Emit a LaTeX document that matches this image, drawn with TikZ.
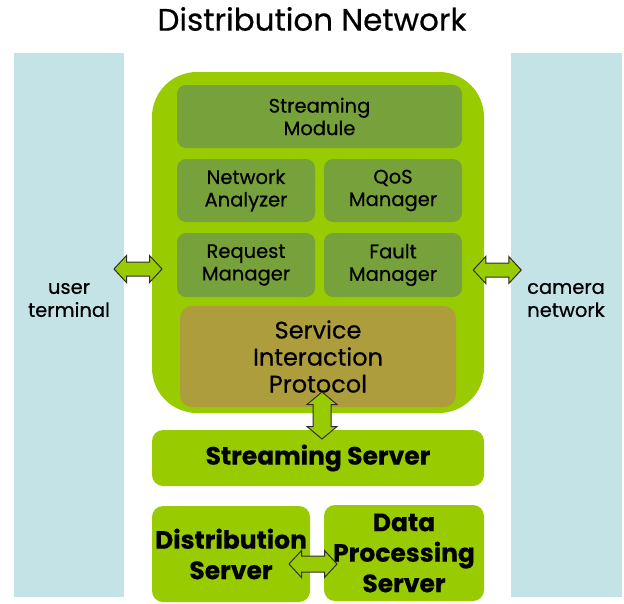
\documentclass[tikz,border=0pt]{standalone}
\usepackage{fontspec}
\setmainfont{Poppins}[FakeBold=0.5]
\usetikzlibrary{calc}
\definecolor{paneblue}{HTML}{C4E3E7}
\definecolor{leafgreen}{HTML}{99CC00}
\definecolor{mossgreen}{HTML}{77A23B}
\definecolor{olivebox}{HTML}{AD9D3D}
\definecolor{arrowline}{HTML}{2E2E2E}
\tikzset{
  pane/.style={fill=paneblue, draw=none, inner sep=0pt},
  shell/.style={fill=leafgreen, draw=none, rounded corners=45pt, inner sep=0pt},
  module/.style={fill=mossgreen, draw=none, rounded corners=9pt, inner sep=0pt,
    align=center, font=\fontsize{19.5}{22.5}\selectfont},
  protocol/.style={fill=olivebox, draw=none, rounded corners=12pt, inner sep=0pt,
    align=center, font=\fontsize{24}{27}\selectfont},
  server/.style={fill=leafgreen, draw=none, rounded corners=11pt, inner sep=0pt,
    align=center, font=\bfseries\fontsize{25}{30.5}\selectfont},
  sidelabel/.style={align=center, font=\fontsize{19.5}{23}\selectfont},
  linkline/.style={fill=leafgreen, draw=arrowline, line width=1pt, line join=miter},
  % two-headed block arrow: half length / half head width / half shaft width
  pics/twoway/.style n args={3}{code={
    \path[linkline] (-#1,0) -- ({-#1+12.5},-#2) -- ({-#1+12.5},-#3) -- ({#1-12.5},-#3)
      -- ({#1-12.5},-#2) -- (#1,0) -- ({#1-12.5},#2) -- ({#1-12.5},#3)
      -- ({-#1+12.5},#3) -- ({-#1+12.5},#2) -- cycle;
  }},
}
\begin{document}
\begin{tikzpicture}[x=1pt, y=-1pt]
\useasboundingbox (0,0) rectangle (624,603);

% title
\node (title) at (312,19) {\fontsize{31}{34}\selectfont Distribution Network};

% side panes
\node[pane, minimum width=110pt, minimum height=544pt] (user) at (69,325) {};
\node[pane, minimum width=111pt, minimum height=544pt] (camera) at (566,325) {};
\node[sidelabel] (userlbl) at (69,300) {user\\terminal};
\node[sidelabel] (cameralbl) at (566,300) {camera\\network};

% streaming module shell and its parts
\node[shell, minimum width=332pt, minimum height=341pt] (main) at (318,242.5) {};
\node[module, minimum width=285pt, minimum height=63pt] (smod) at (319.5,116.5) {Streaming\\Module};
\node[module, minimum width=138pt, minimum height=63pt] (netan) at (246,190.5) {Network\\Analyzer};
\node[module, minimum width=138pt, minimum height=63pt] (qos) at (393,190.5) {QoS\\Manager};
\node[module, minimum width=138pt, minimum height=64pt] (req) at (246,265) {Request\\Manager};
\node[module, minimum width=138pt, minimum height=64pt] (fault) at (393,265) {Fault\\Manager};
\node[protocol, minimum width=276pt, minimum height=101pt] (sip) at (318,356.5) {Service\\Interaction\\Protocol};

% servers
\node[server, minimum width=332pt, minimum height=56pt] (sserv) at (318,458) {Streaming Server};
\node[server, minimum width=158pt, minimum height=96pt] (dist) at (231,554) {Distribution\\Server};
\node[server, minimum width=160pt, minimum height=96pt] (dps) at (404,553) {Data\\Processing\\Server};

% two-way links
\pic at ($(user.east |- 0,269)!0.5!(main.west |- 0,269)$) {twoway={24}{13.5}{7}};
\pic at ($(main.east |- 0,270)!0.5!(camera.west |- 0,270)$) {twoway={24}{13.5}{7}};
\pic[rotate=90] at ($(sip.south)!0.5!(sserv.north) + (4,-3)$) {twoway={23.5}{15}{9}};
\pic at ($(dist.east |- 0,564)!0.5!(dps.west |- 0,564) + (-4,0)$) {twoway={24}{13.5}{8}};
\end{tikzpicture}
\end{document}
